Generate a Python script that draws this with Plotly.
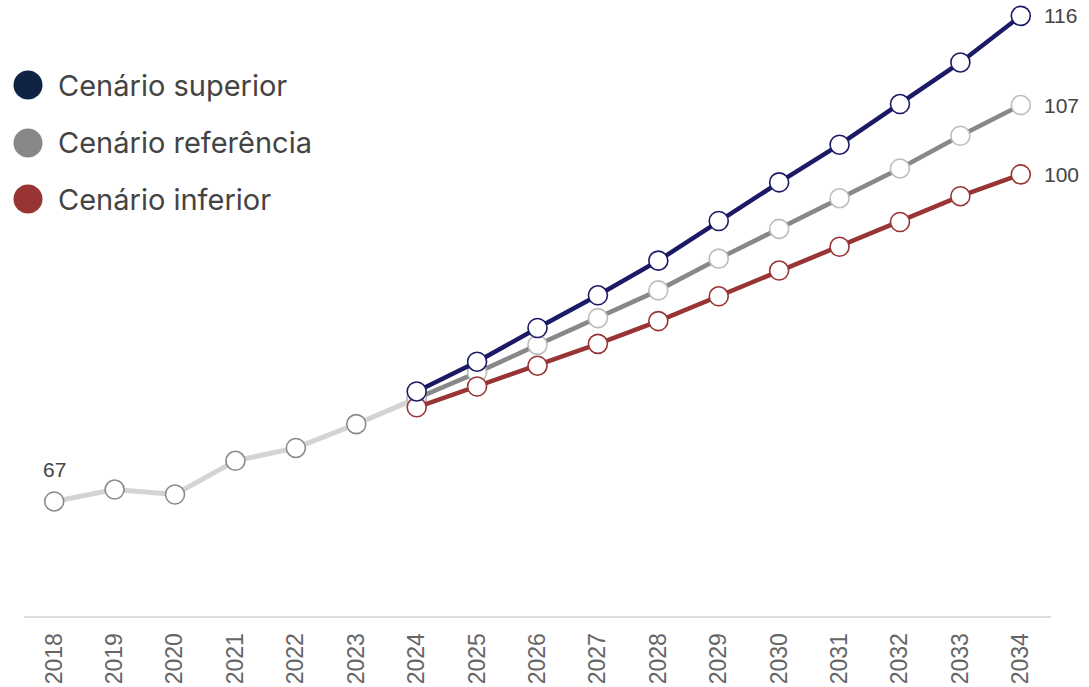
import plotly.graph_objects as go

# Years on the horizontal axis
years_hist = [2018, 2019, 2020, 2021, 2022, 2023]
years_proj = [2024, 2025, 2026, 2027, 2028, 2029, 2030, 2031, 2032, 2033, 2034]

# Observed series
hist_values = [67, 68.2, 67.7, 71.1, 72.4, 74.8]

# Projection scenarios
superior = [78.1, 81.1, 84.5, 87.8, 91.3, 95.3, 99.2, 103.0, 107.1, 111.3, 116]
referencia = [77.4, 80.0, 82.8, 85.5, 88.3, 91.5, 94.5, 97.6, 100.6, 103.9, 107]
inferior = [76.5, 78.6, 80.7, 82.9, 85.2, 87.7, 90.3, 92.7, 95.2, 97.8, 100]

legend_names = ["Cenário superior", "Cenário referência", "Cenário inferior"]
legend_colors = ["#0f2444", "#878787", "#983534"]

NAVY = "#1b1a66"
RED = "#983534"
GRAY = "#888888"
LIGHT = "#d4d4d4"
TEXT = "#444444"
LABEL_FONT = dict(family="Liberation Sans, Arial", size=21, color=TEXT)

fig = go.Figure()

# Observed history, joined to the first projected year
fig.add_trace(go.Scatter(
    x=years_hist + [years_proj[0]], y=hist_values + [referencia[0]],
    mode="lines+markers",
    line=dict(color=LIGHT, width=5),
    marker=dict(size=19, color="white", line=dict(color="#8a8a8a", width=1.6)),
    hoverinfo="skip", showlegend=False,
))
fig.add_annotation(x=years_hist[0], y=hist_values[0], text=f"{hist_values[0]:.0f}",
                   showarrow=False, yanchor="middle", yshift=32, font=LABEL_FONT)

scenarios = [
    (referencia, GRAY, "#bdbdbd"),
    (inferior, RED, RED),
    (superior, NAVY, NAVY),
]
for vals, lc, mc in scenarios:
    fig.add_trace(go.Scatter(
        x=years_proj, y=vals,
        mode="lines+markers",
        line=dict(color=lc, width=4.5),
        marker=dict(size=19, color="white", line=dict(color=mc, width=1.6)),
        cliponaxis=False,
        hoverinfo="skip", showlegend=False,
    ))
    # Final value printed to the right of the last point
    fig.add_annotation(x=years_proj[-1], y=vals[-1], text=f"{vals[-1]:.0f}",
                       showarrow=False, xanchor="left", yanchor="middle",
                       xshift=21, font=LABEL_FONT)

# Custom legend (large dots and labels) in the upper left corner
L, R, TOP, BOT = 24, 1051, 0, 616
W, H = R - L, BOT - TOP
legend_y_px = [85, 143, 199]
for name, col, py in zip(legend_names, legend_colors, legend_y_px):
    yp = (BOT - py) / H
    fig.add_shape(type="circle", xref="paper", yref="paper",
                  xsizemode="pixel", ysizemode="pixel",
                  xanchor=(28 - L) / W, yanchor=yp,
                  x0=-14.5, x1=14.5, y0=-14.5, y1=14.5,
                  fillcolor=col, line=dict(width=0))
    fig.add_annotation(x=(56 - L) / W, y=yp, xref="paper", yref="paper",
                       text=name, showarrow=False, xanchor="left", yanchor="middle",
                       font=dict(family="Inter, Roboto, sans-serif", size=29, color=TEXT))

fig.update_layout(
    width=1089, height=687,
    margin=dict(l=L, r=1089 - R, t=TOP, b=687 - BOT, autoexpand=False),
    paper_bgcolor="white", plot_bgcolor="white",
    xaxis=dict(
        range=[2017.5, 2034.5],
        tickmode="array", tickvals=years_hist + years_proj,
        ticktext=[str(y) for y in years_hist + years_proj],
        tickangle=-90, showgrid=False, zeroline=False, automargin=False,
        showline=True, linecolor="#dddddd", linewidth=2,
        ticks="", ticklabelstandoff=6,
        tickfont=dict(family="Liberation Sans, Arial", size=23, color="#666666"),
    ),
    yaxis=dict(range=[55.44, 117.6], visible=False, automargin=False),
)

fig.write_html("out.html")
